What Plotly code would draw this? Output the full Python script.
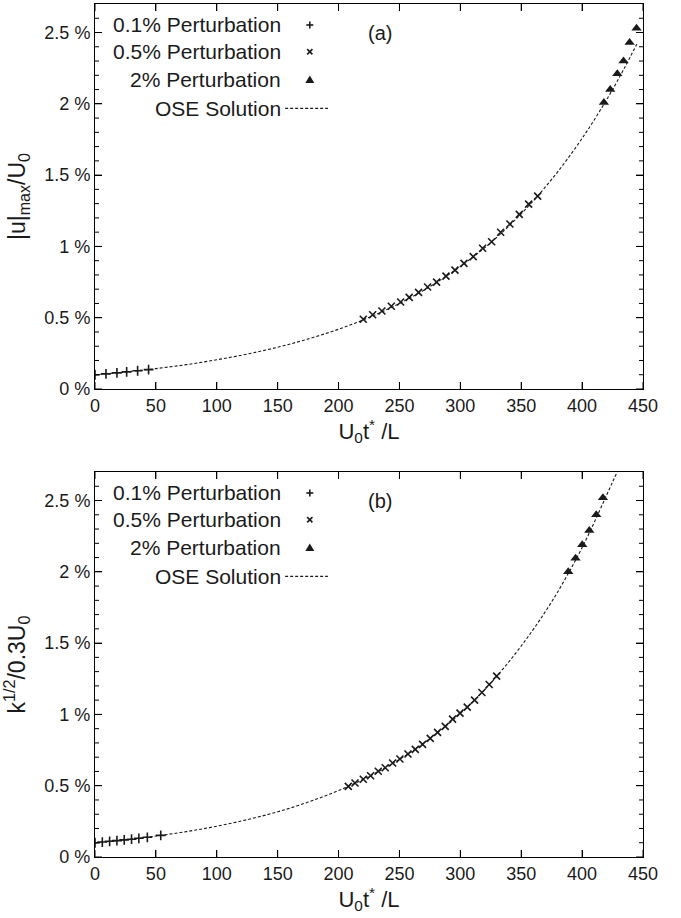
import plotly.graph_objects as go

# ---------------- data ----------------
ose_t_a = [0, 25, 50, 75, 100, 125, 150, 175, 200, 225, 250, 275, 300, 325, 350, 375, 400, 425, 445]
ose_v_a = [0.100, 0.120, 0.143, 0.171, 0.205, 0.245, 0.293, 0.351, 0.419, 0.502, 0.600, 0.718,
           0.859, 1.027, 1.229, 1.470, 1.758, 2.100, 2.420]
p01_t_a = [0, 9, 18, 26, 35, 44]
p01_v_a = [0.100, 0.106, 0.113, 0.120, 0.128, 0.136]
p05_t_a = [220.3, 228.0, 235.6, 243.3, 251.0, 258.0, 265.7, 273.1, 280.5, 288.2, 295.6, 303.0,
           310.6, 318.3, 325.7, 333.1, 340.7, 348.4, 356.1, 363.5]
p05_v_a = [0.489, 0.521, 0.547, 0.580, 0.610, 0.643, 0.678, 0.715, 0.750, 0.792, 0.834, 0.881,
           0.928, 0.987, 1.033, 1.099, 1.157, 1.225, 1.297, 1.353]
p2_t_a = [417.9, 423.1, 428.9, 434.0, 439.0, 444.7]
p2_v_a = [2.01, 2.10, 2.21, 2.30, 2.43, 2.53]

ose_t_b = [0, 25, 50, 75, 100, 125, 150, 175, 200, 225, 250, 275, 300, 325, 350, 375, 400, 425, 432]
ose_v_b = [0.100, 0.121, 0.147, 0.178, 0.216, 0.262, 0.317, 0.385, 0.466, 0.565, 0.685, 0.830,
           1.006, 1.220, 1.480, 1.790, 2.170, 2.630, 2.760]
p01_t_b = [0, 6, 12, 18, 24, 30, 36, 43, 54]
p01_v_b = [0.100, 0.105, 0.110, 0.115, 0.120, 0.125, 0.131, 0.138, 0.152]
p05_t_b = [208.0, 213.5, 220.3, 226.3, 232.6, 238.3, 244.4, 250.4, 257.0, 263.0, 269.0, 275.3,
           281.3, 287.6, 293.6, 299.7, 305.7, 311.7, 317.7, 323.7, 329.8]
p05_v_b = [0.495, 0.519, 0.545, 0.570, 0.601, 0.626, 0.659, 0.687, 0.722, 0.755, 0.790, 0.832,
           0.874, 0.916, 0.967, 1.009, 1.051, 1.100, 1.154, 1.210, 1.268]
p2_t_b = [388.6, 394.6, 400.1, 405.9, 411.6, 417.1]
p2_v_b = [2.00, 2.095, 2.19, 2.29, 2.40, 2.52]

x_ticks = [0, 50, 100, 150, 200, 250, 300, 350, 400, 450]
y_tickvals = [0, 0.5, 1, 1.5, 2, 2.5]
y_ticktext = ["0 %", "0.5 %", "1 %", "1.5 %", "2 %", "2.5 %"]
y_minor_vals = [0.1, 0.2, 0.3, 0.4, 0.6, 0.7, 0.8, 0.9, 1.1, 1.2, 1.3, 1.4, 1.6, 1.7, 1.8, 1.9,
                2.1, 2.2, 2.3, 2.4, 2.6]

legend_labels = ["0.1% Perturbation", "0.5% Perturbation", "2% Perturbation", "OSE Solution"]
panel_labels = ["(a)", "(b)"]

# ---------------- figure ----------------
FONT = "Liberation Sans, Arial, sans-serif"
INK = "#1a1a1a"
W, H = 681, 918
mL, mR, mT, mB = 95, 38, 4, 61
ph = 385
total = H - mT - mB
dom_a = [1 - ph / total, 1]
dom_b = [0, ph / total]

fig = go.Figure()

line_style = dict(color=INK, width=1.1, dash="3px,2px", shape="spline")
plus_m = dict(symbol="cross-thin", size=7, line=dict(color=INK, width=1.6), color=INK)
x_m = dict(symbol="x-thin", size=7, line=dict(color=INK, width=1.6), color=INK)
tri_m = dict(symbol="triangle-up", size=9, color=INK, line=dict(width=0))

for (xa, ya, ot, ov, t1, v1, t5, v5, t2, v2) in [
    ("x", "y", ose_t_a, ose_v_a, p01_t_a, p01_v_a, p05_t_a, p05_v_a, p2_t_a, p2_v_a),
    ("x2", "y2", ose_t_b, ose_v_b, p01_t_b, p01_v_b, p05_t_b, p05_v_b, p2_t_b, p2_v_b),
]:
    fig.add_trace(go.Scatter(x=ot, y=ov, mode="lines", line=line_style, xaxis=xa, yaxis=ya,
                             showlegend=False, hoverinfo="skip"))
    fig.add_trace(go.Scatter(x=t1, y=v1, mode="markers", marker=plus_m, xaxis=xa, yaxis=ya,
                             showlegend=False))
    fig.add_trace(go.Scatter(x=t5, y=v5, mode="markers", marker=x_m, xaxis=xa, yaxis=ya,
                             showlegend=False))
    fig.add_trace(go.Scatter(x=t2, y=v2, mode="markers", marker=tri_m, xaxis=xa, yaxis=ya,
                             showlegend=False))

axis_common = dict(
    showline=True, linecolor="black", ticks="inside", ticklen=7, tickcolor="black",
    mirror="ticks", tickfont=dict(family=FONT, size=18, color=INK),
)
xaxis_common = dict(axis_common, range=[0, 450], tickvals=x_ticks,
                    title=dict(text="U<sub>0</sub>t<sup>*</sup> /L",
                               font=dict(family=FONT, size=22, color=INK), standoff=0))
yaxis_common = dict(axis_common, range=[0, 2.7], tickvals=y_tickvals, ticktext=y_ticktext)

fig.update_layout(
    width=W, height=H,
    margin=dict(l=mL, r=mR, t=mT, b=mB),
    paper_bgcolor="white", plot_bgcolor="white",
    font=dict(family=FONT, color=INK),
    xaxis=dict(xaxis_common, domain=[0, 1], anchor="y"),
    yaxis=dict(yaxis_common, domain=dom_a, anchor="x",
               title=dict(text="|u|<sub>max</sub>/U<sub>0</sub>",
                          font=dict(family=FONT, size=23, color=INK), standoff=12)),
    xaxis2=dict(xaxis_common, domain=[0, 1], anchor="y2"),
    yaxis2=dict(yaxis_common, domain=dom_b, anchor="x2",
                title=dict(text="k<sup>1/2</sup>/0.3U<sub>0</sub>",
                           font=dict(family=FONT, size=23, color=INK), standoff=12)),
)

# legend (gnuplot style: label right-aligned, key to its right) and inward tick marks
rows_y = [0.9455, 0.876, 0.8026, 0.729]
key_x = 0.392
annotations = []
shapes = []
tick_ln = dict(color="black", width=1)
for xa, ya, lab in [("x", "y", panel_labels[0]), ("x2", "y2", panel_labels[1])]:
    xref, yref = xa + " domain", ya + " domain"
    for ry, txt in zip(rows_y, legend_labels):
        annotations.append(dict(x=0.3425, y=ry, xref=xref, yref=yref, text=txt, showarrow=False,
                                xanchor="right", yanchor="middle",
                                font=dict(family=FONT, size=21, color=INK)))
    annotations.append(dict(x=0.52, y=0.925, xref=xref, yref=yref, text=lab, showarrow=False,
                            xanchor="center", yanchor="middle",
                            font=dict(family=FONT, size=20, color=INK)))
    pix = dict(xref=xref, yref=yref, xsizemode="pixel", ysizemode="pixel", xanchor=key_x)
    ln = dict(color=INK, width=1.6)
    shapes.append(dict(pix, type="line", yanchor=rows_y[0], x0=-3.5, x1=3.5, y0=0, y1=0, line=ln))
    shapes.append(dict(pix, type="line", yanchor=rows_y[0], x0=0, x1=0, y0=-3.5, y1=3.5, line=ln))
    shapes.append(dict(pix, type="line", yanchor=rows_y[1], x0=-2.6, x1=2.6, y0=-2.6, y1=2.6, line=ln))
    shapes.append(dict(pix, type="line", yanchor=rows_y[1], x0=-2.6, x1=2.6, y0=2.6, y1=-2.6, line=ln))
    shapes.append(dict(pix, type="path", yanchor=rows_y[2], path="M -4.5,-3 L 4.5,-3 L 0,4.5 Z",
                       fillcolor=INK, line=dict(width=0)))
    shapes.append(dict(type="line", xref=xref, yref=yref, x0=0.347, x1=0.425,
                       y0=rows_y[3], y1=rows_y[3], line=dict(color=INK, width=1.1, dash="3px,2px")))
    # x ticks: bottom and top, pointing inward
    for v in x_ticks:
        for anch, a0, a1 in [(0, 0, 7), (1, -7, 0)]:
            shapes.append(dict(type="line", xref=xa, yref=yref, ysizemode="pixel", yanchor=anch,
                               x0=v, x1=v, y0=a0, y1=a1, line=tick_ln, layer="above"))
    # y ticks (major + minor): left and right, pointing inward
    for vals, L in [(y_tickvals, 7), (y_minor_vals, 4)]:
        for v in vals:
            for anch, a0, a1 in [(0, 0, L), (1, -L, 0)]:
                shapes.append(dict(type="line", xref=xref, yref=ya, xsizemode="pixel", xanchor=anch,
                                   x0=a0, x1=a1, y0=v, y1=v, line=tick_ln, layer="above"))
fig.update_layout(annotations=annotations, shapes=shapes)

fig.write_html("out.html", config={"displayModeBar": False})

# remove the browser's default 8px body margin so the figure fills the window exactly
with open("out.html", "r", encoding="utf-8") as f:
    html = f.read()
html = html.replace("<head>", "<head><style>html,body{margin:0;padding:0;}</style>", 1)
with open("out.html", "w", encoding="utf-8") as f:
    f.write(html)
